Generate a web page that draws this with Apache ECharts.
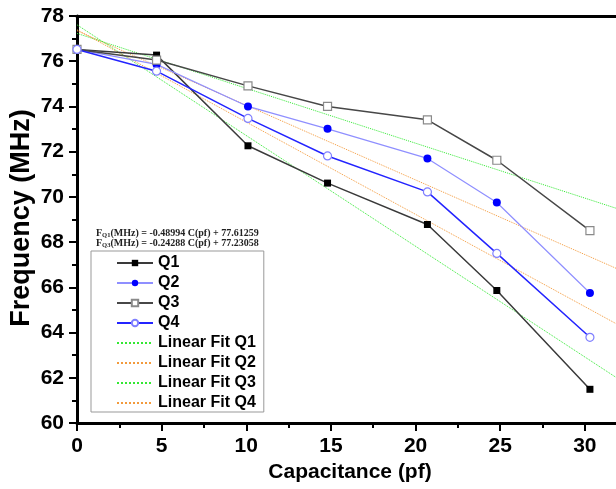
<!DOCTYPE html>
<html>
<head>
<meta charset="utf-8">
<script src="https://cdn.jsdelivr.net/npm/echarts@6/dist/echarts.min.js"></script>
<style>
html,body{margin:0;padding:0;background:#fff;}
#c{width:616px;height:489px;}
</style>
</head>
<body>
<div id="c"></div>
<script>
// ---- data ----
const capacitance = [0, 4.7, 10.1, 14.8, 20.7, 24.8, 30.3];
const q1 = [76.52, 76.27, 72.26, 70.61, 68.78, 65.86, 61.49];
const q2 = [76.52, 75.86, 74.00, 73.01, 71.70, 69.75, 65.75];
const q3 = [76.52, 76.05, 74.91, 74.00, 73.41, 71.62, 68.51];
const q4 = [76.52, 75.56, 73.47, 71.81, 70.22, 67.50, 63.79];
// linear-fit end points (x = 0 and x = 32)
const fitX = [0, 32];
const fitQ1 = [77.61, 61.94];
const fitQ2 = [77.35, 66.79];
const fitQ3 = [77.23, 69.46];
const fitQ4 = [77.39, 64.33];
const xTicks = [0, 5, 10, 15, 20, 25, 30];
const xMinorTicks = [2.5, 7.5, 12.5, 17.5, 22.5, 27.5];
const yTicks = [60, 62, 64, 66, 68, 70, 72, 74, 76, 78];
const eqQ1 = '(MHz) = -0.48994 C(pf) + 77.61259';
const eqQ3 = '(MHz) = -0.24288 C(pf) + 77.23058';

const pair = (xs, ys) => xs.map((x, i) => [x, ys[i]]);
const chart = echarts.init(document.getElementById('c'));
const font = 'Liberation Sans, Arial, sans-serif';

function dataSeries(name, ys, lineColor, lineWidth, symbol, fill, border, size) {
  return {
    name, type: 'line', data: pair(capacitance, ys),
    symbol, symbolSize: size, z: 5,
    lineStyle: { color: lineColor, width: lineWidth },
    itemStyle: { color: fill, borderColor: border, borderWidth: border ? 1.2 : 0 },
    emphasis: { disabled: true }
  };
}
function fitSeries(name, ys, color) {
  return {
    name, type: 'line', data: pair(fitX, ys), symbol: 'none', z: 3,
    lineStyle: { color, width: 1, type: 'dotted' },
    itemStyle: { color },
    emphasis: { disabled: true }
  };
}

chart.setOption({
  animation: false,
  backgroundColor: '#fff',
  grid: { left: 77, top: 16, height: 407, width: 539, outerBoundsMode: 'none', containLabel: false },
  xAxis: [{
    type: 'value', min: 0, max: 31.84, interval: 5,
    axisLine: { lineStyle: { color: '#000', width: 3 } },
    axisTick: { length: 8, customValues: xTicks, lineStyle: { color: '#000', width: 2 } },
    minorTick: { show: false },
    splitLine: { show: false },
    axisLabel: { margin: 13, fontSize: 21, fontWeight: 'bold', color: '#000', fontFamily: font,
      customValues: xTicks }
  }, {
    type: 'value', position: 'top', min: 0, max: 31.84,
    axisLine: { show: true, lineStyle: { color: '#000', width: 3 } },
    axisTick: { show: false }, axisLabel: { show: false }, splitLine: { show: false }
  }, {
    type: 'value', position: 'bottom', min: 0, max: 31.84,
    axisLine: { show: false },
    axisTick: { show: true, length: 5, customValues: xMinorTicks, lineStyle: { color: '#000', width: 2 } },
    axisLabel: { show: false }, splitLine: { show: false }
  }],
  yAxis: {
    type: 'value', min: 60, max: 78, interval: 2,
    axisLine: { lineStyle: { color: '#000', width: 3 } },
    axisTick: { length: 8, lineStyle: { color: '#000', width: 2 } },
    minorTick: { show: true, splitNumber: 2, length: 5, lineStyle: { color: '#000', width: 2 } },
    splitLine: { show: false },
    axisLabel: { margin: 13, fontSize: 21, fontWeight: 'bold', color: '#000', fontFamily: font,
      formatter: v => yTicks.includes(v) ? String(v) : '' }
  },
  legend: {
    orient: 'vertical', left: 91, top: 251, align: 'left',
    padding: [4, 8, 1, 25],
    itemWidth: 36, itemHeight: 8, itemGap: 4,
    borderColor: '#999', borderWidth: 1, backgroundColor: '#fff',
    textStyle: { fontSize: 16, fontWeight: 'bold', color: '#000', fontFamily: font },
    selectedMode: false,
    data: ['Q1', 'Q2', 'Q3', 'Q4',
      { name: 'Linear Fit Q1', itemStyle: { opacity: 0 } },
      { name: 'Linear Fit Q2', itemStyle: { opacity: 0 } },
      { name: 'Linear Fit Q3', itemStyle: { opacity: 0 } },
      { name: 'Linear Fit Q4', itemStyle: { opacity: 0 } }]
  },
  graphic: [
    { type: 'text', left: 96, top: 228, z: 10,
      style: { text: '{b|F}{s|Q1}{b|' + eqQ1 + '}', rich: {
        b: { fontFamily: 'Liberation Serif, Times New Roman, serif', fontWeight: 'bold', fontSize: 10, fill: '#222' },
        s: { fontFamily: 'Liberation Serif, Times New Roman, serif', fontWeight: 'bold', fontSize: 6.5, fill: '#222', padding: [4, 0, 0, 0] } } } },
    { type: 'text', left: 96, top: 238, z: 10,
      style: { text: '{b|F}{s|Q3}{b|' + eqQ3 + '}', rich: {
        b: { fontFamily: 'Liberation Serif, Times New Roman, serif', fontWeight: 'bold', fontSize: 10, fill: '#222' },
        s: { fontFamily: 'Liberation Serif, Times New Roman, serif', fontWeight: 'bold', fontSize: 6.5, fill: '#222', padding: [4, 0, 0, 0] } } } },
    { type: 'text', x: 350, y: 472, z: 10,
      style: { text: 'Capacitance (pf)', fontSize: 21, fontWeight: 'bold', fontFamily: font, fill: '#000',
        align: 'center', verticalAlign: 'middle' } },
    { type: 'text', x: 22, y: 218, rotation: Math.PI / 2, z: 10,
      style: { text: 'Frequency (MHz)', fontSize: 27, fontWeight: 'bold', fontFamily: font, fill: '#000',
        align: 'center', verticalAlign: 'middle' } }
  ],
  series: [
    fitSeries('Linear Fit Q1', fitQ1, '#33e833'),
    fitSeries('Linear Fit Q2', fitQ2, '#f39a3c'),
    fitSeries('Linear Fit Q3', fitQ3, '#33e833'),
    fitSeries('Linear Fit Q4', fitQ4, '#f39a3c'),
    dataSeries('Q1', q1, '#3a3a3a', 1.5, 'rect', '#000', null, 7),
    dataSeries('Q2', q2, '#8f8fff', 1.2, 'circle', '#0000ff', null, 8),
    dataSeries('Q3', q3, '#474747', 1.5, 'rect', '#fff', '#8a8a8a', 8),
    dataSeries('Q4', q4, '#2424ff', 1.5, 'circle', '#fff', '#7f7fff', 8)
  ]
});
</script>
</body>
</html>
